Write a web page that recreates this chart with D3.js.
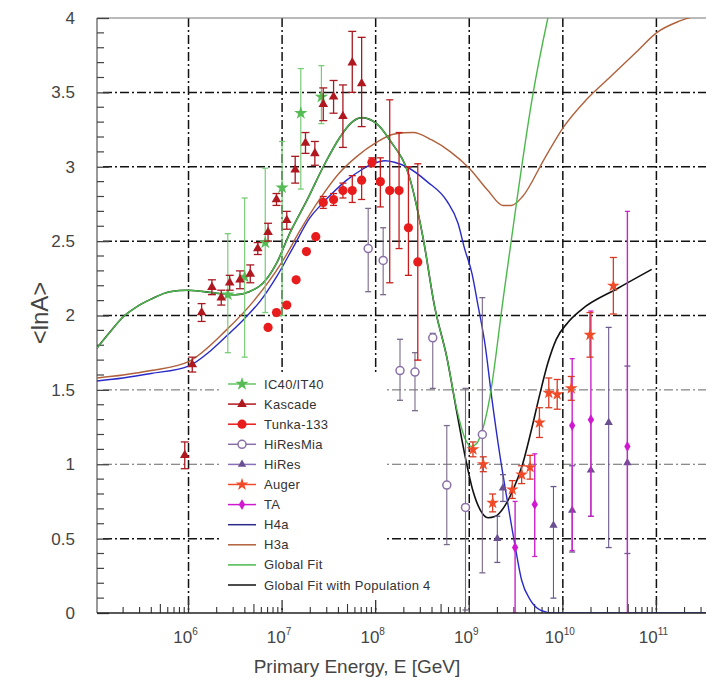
<!DOCTYPE html>
<html><head><meta charset="utf-8">
<script src="https://cdn.jsdelivr.net/npm/d3@7"></script>
<style>body{margin:0;background:#fff;} svg{display:block;font-family:"Liberation Sans",Arial,sans-serif;}</style>
</head><body><svg id="c" width="706" height="682"></svg>
<script>
// ---------- axis data ----------
const xTickExps = [6, 7, 8, 9, 10, 11];
const yTickValues = [0, 0.5, 1, 1.5, 2, 2.5, 3, 3.5, 4];
const yTickLabels = ["0", "0.5", "1", "1.5", "2", "2.5", "3", "3.5", "4"];
const yGridValues = [0.5, 1, 1.5, 2, 2.5, 3, 3.5];

// ---------- data points (log10 E [GeV], <lnA>) ----------
const ic40_logE = [6.42, 6.60, 6.82, 7.00, 7.20, 7.42];
const ic40_lnA  = [2.14, 2.26, 2.49, 2.86, 3.36, 3.47];
const ic40_lo   = [1.75, 1.72, 2.02, 2.00, 2.85, 3.29];
const ic40_hi   = [2.55, 2.79, 2.99, 3.17, 3.66, 3.68];

const kas_logE = [5.96, 6.04, 6.14, 6.25, 6.35, 6.44, 6.55, 6.66, 6.74, 6.85, 6.94, 7.05, 7.14, 7.25, 7.35, 7.44, 7.55, 7.65, 7.75, 7.85];
const kas_lnA  = [1.06, 1.67, 2.02, 2.19, 2.12, 2.22, 2.24, 2.28, 2.45, 2.56, 2.78, 2.64, 2.98, 3.16, 3.09, 3.42, 3.47, 3.34, 3.70, 3.56];
const kas_lo   = [0.97, 1.62, 1.96, 2.14, 2.07, 2.17, 2.18, 2.22, 2.41, 2.50, 2.74, 2.58, 2.89, 3.09, 3.01, 3.31, 3.36, 3.13, 3.50, 3.27];
const kas_hi   = [1.15, 1.72, 2.08, 2.24, 2.17, 2.27, 2.30, 2.34, 2.49, 2.62, 2.82, 2.70, 3.07, 3.23, 3.17, 3.53, 3.58, 3.55, 3.91, 3.87];

const tun_logE = [6.85, 6.94, 7.05, 7.15, 7.26, 7.36, 7.44, 7.55, 7.65, 7.75, 7.85, 7.96, 8.05, 8.15, 8.25, 8.35, 8.45];
const tun_lnA  = [1.92, 2.02, 2.07, 2.24, 2.43, 2.53, 2.76, 2.78, 2.84, 2.84, 2.91, 3.03, 2.90, 2.84, 2.84, 2.59, 2.36];
const tun_lo   = [1.92, 2.02, 2.07, 2.24, 2.43, 2.53, 2.72, 2.74, 2.79, 2.76, 2.78, 3.00, 2.73, 2.22, 2.45, 2.27, 1.70];
const tun_hi   = [1.92, 2.02, 2.07, 2.24, 2.43, 2.53, 2.80, 2.82, 2.89, 2.94, 3.00, 3.06, 3.06, 3.45, 3.23, 3.00, 3.02];

const hrm_logE = [7.92, 8.08, 8.26, 8.42, 8.61, 8.76, 8.96, 9.14];
const hrm_lnA  = [2.45, 2.37, 1.63, 1.62, 1.85, 0.86, 0.71, 1.20];
const hrm_lo   = [2.16, 2.14, 1.43, 1.36, 1.51, 0.46, 0.02, 0.27];
const hrm_hi   = [2.72, 2.59, 1.84, 1.75, 1.88, 1.26, 1.51, 2.12];

const hr_logE = [9.30, 9.36, 9.90, 10.10, 10.30, 10.49, 10.69];
const hr_lnA  = [0.50, 0.84, 0.59, 0.69, 0.96, 1.28, 1.01];
const hr_lo   = [0.34, 0.75, 0.10, 0.41, 0.65, 0.44, 0.40];
const hr_hi   = [0.65, 0.93, 0.85, 0.99, 1.30, 1.92, 1.66];

const aug_logE = [9.04, 9.15, 9.25, 9.46, 9.56, 9.65, 9.75, 9.85, 9.94, 10.09, 10.29, 10.54];
const aug_lnA  = [1.10, 1.00, 0.74, 0.83, 0.93, 0.98, 1.28, 1.48, 1.47, 1.51, 1.87, 2.20];
const aug_err  = [0.05, 0.05, 0.06, 0.06, 0.06, 0.08, 0.10, 0.10, 0.10, 0.08, 0.15, 0.19];

const ta_logE = [9.49, 9.70, 10.10, 10.30, 10.69];
const ta_lnA  = [0.44, 0.73, 1.26, 1.30, 1.12];
const ta_lo   = [0.00, 0.38, 0.42, 0.65, 0.00];
const ta_hi   = [0.75, 1.07, 1.71, 2.03, 2.70];

// ---------- model curves ----------
const h4a_logE = [5.02, 5.3, 5.6, 6.0, 6.23, 6.42, 6.6, 6.77, 6.95, 7.12, 7.3, 7.41, 7.55, 7.69, 7.85, 7.97, 8.1, 8.2, 8.33, 8.55, 8.76, 8.88, 8.95, 9.03, 9.09, 9.17, 9.24, 9.33, 9.40, 9.49, 9.56, 9.65, 9.76, 9.9, 10.2, 11.53];
const h4a_lnA  = [1.56, 1.58, 1.61, 1.66, 1.76, 1.87, 1.98, 2.10, 2.27, 2.46, 2.66, 2.74, 2.83, 2.91, 2.98, 3.02, 3.04, 3.03, 3.00, 2.90, 2.77, 2.62, 2.45, 2.28, 2.08, 1.80, 1.45, 1.05, 0.78, 0.45, 0.22, 0.09, 0.02, 0.0, 0.0, 0.0];

const h3a_logE = [5.02, 5.3, 5.6, 6.0, 6.4, 6.7, 7.0, 7.2, 7.4, 7.6, 7.8, 8.0, 8.2, 8.4, 8.6, 8.8, 9.0, 9.2, 9.36, 9.45, 9.57, 9.8, 10.0, 10.25, 10.5, 10.8, 11.0, 11.25, 11.53];
const h3a_lnA  = [1.58, 1.60, 1.63, 1.69, 1.90, 2.10, 2.36, 2.58, 2.78, 2.95, 3.07, 3.16, 3.22, 3.23, 3.18, 3.10, 2.99, 2.84, 2.74, 2.74, 2.80, 3.05, 3.26, 3.45, 3.60, 3.78, 3.90, 3.98, 4.03];

const gf_logE = [5.02, 5.15, 5.3, 5.45, 5.6, 5.8, 6.0, 6.3, 6.5, 6.65, 6.8, 6.94, 7.08, 7.27, 7.44, 7.62, 7.73, 7.85, 8.01, 8.15, 8.37, 8.51, 8.63, 8.76, 8.87, 8.95, 9.02, 9.08, 9.15, 9.22, 9.36, 9.51, 9.67, 9.84, 9.95];
const gf_lnA  = [1.78, 1.88, 1.99, 2.06, 2.11, 2.16, 2.17, 2.15, 2.14, 2.16, 2.22, 2.35, 2.55, 2.78, 3.00, 3.20, 3.29, 3.33, 3.29, 3.18, 2.91, 2.51, 2.06, 1.72, 1.36, 1.18, 1.12, 1.14, 1.25, 1.45, 2.10, 2.78, 3.45, 4.00, 4.30];

const gf4_logE = [5.02, 5.15, 5.3, 5.45, 5.6, 5.8, 6.0, 6.3, 6.5, 6.65, 6.8, 6.94, 7.08, 7.27, 7.44, 7.62, 7.73, 7.85, 8.01, 8.15, 8.37, 8.51, 8.63, 8.76, 8.87, 8.96, 9.04, 9.12, 9.2, 9.28, 9.37, 9.47, 9.57, 9.66, 9.75, 9.84, 9.93, 10.05, 10.2, 10.58, 10.95];
const gf4_lnA  = [1.78, 1.88, 1.99, 2.06, 2.11, 2.16, 2.17, 2.15, 2.14, 2.16, 2.22, 2.35, 2.55, 2.78, 3.00, 3.20, 3.29, 3.33, 3.29, 3.18, 2.91, 2.51, 2.06, 1.72, 1.34, 1.04, 0.82, 0.69, 0.64, 0.65, 0.71, 0.83, 1.00, 1.22, 1.46, 1.68, 1.84, 1.95, 2.04, 2.18, 2.31];

const legendLabels = ["IC40/IT40", "Kascade", "Tunka-133", "HiResMia", "HiRes", "Auger", "TA", "H4a", "H3a", "Global Fit", "Global Fit with Population 4"];

// ---------- drawing ----------
const svg = d3.select("#c");
const X0 = 97, X1 = 706, Y0 = 18, Y1 = 613;
const E = v => Math.pow(10, v);
const x = d3.scaleLog().domain([E(5.022), E(11.53)]).range([X0, X1]);
const y = d3.scaleLinear().domain([0, 4]).range([Y1, Y0]);

svg.append("defs").append("clipPath").attr("id", "clip")
  .append("rect").attr("x", X0).attr("y", Y0).attr("width", X1 - X0).attr("height", Y1 - Y0);

// gridlines
const grid = svg.append("g");
const dash = "9,3,2,3";
yGridValues.forEach(v => {
  const light = (v === 1 || v === 1.5);
  grid.append("line").attr("x1", X0 + 6).attr("x2", X1).attr("y1", y(v)).attr("y2", y(v))
    .attr("stroke", light ? "#666" : "#111").attr("stroke-width", light ? 1 : 1.5)
    .attr("stroke-dasharray", dash);
});
xTickExps.forEach(e => {
  grid.append("line").attr("x1", x(E(e))).attr("x2", x(E(e))).attr("y1", Y0).attr("y2", Y1)
    .attr("stroke", "#111").attr("stroke-width", 1.5).attr("stroke-dasharray", dash);
});

// legend background box (covers grid)
svg.append("rect").attr("x", 222).attr("y", 372).attr("width", 164).attr("height", 234).attr("fill", "#fff");

// axes frame
svg.append("line").attr("x1", X0).attr("x2", X1).attr("y1", Y0).attr("y2", Y0).attr("stroke", "#777").attr("stroke-width", 1.2);
svg.append("line").attr("x1", X0).attr("x2", X0).attr("y1", Y0).attr("y2", Y1).attr("stroke", "#555").attr("stroke-width", 1.2);

// y ticks
const yAxis = d3.axisLeft(y).tickValues(yTickValues).tickFormat((d, i) => yTickLabels[i]).tickSize(-12).tickPadding(22);
const gy = svg.append("g").attr("transform", `translate(${X0},0)`).call(yAxis);
gy.select(".domain").remove();
gy.selectAll("line").attr("stroke", "#444").attr("stroke-width", 1.3);
gy.selectAll("text").attr("font-size", 17).attr("fill", "#444").attr("font-family", "Liberation Sans, Arial, sans-serif");
const yMinor = d3.range(0, 40).map(i => i / 10).filter(v => Math.abs(v * 2 - Math.round(v * 2)) > 1e-6);
svg.append("g").selectAll("line").data(yMinor).join("line")
  .attr("x1", X0).attr("x2", X0 + 7).attr("y1", d => y(d)).attr("y2", d => y(d))
  .attr("stroke", "#444").attr("stroke-width", 1.2);

// x ticks
const xMinor = [];
for (let d = 5; d <= 11; d++) for (let k = 2; k <= 9; k++) { const v = k * E(d); if (v > x.domain()[0] && v < x.domain()[1]) xMinor.push(v); }
svg.append("g").selectAll("line").data(xMinor).join("line")
  .attr("x1", d => x(d)).attr("x2", d => x(d)).attr("y1", Y1).attr("y2", d => Y1 - (Math.round(d / E(Math.floor(Math.log10(d) + 1e-9))) === 5 ? 9 : 6))
  .attr("stroke", "#333").attr("stroke-width", 1.1);
svg.append("g").selectAll("line").data(xTickExps).join("line")
  .attr("x1", d => x(E(d))).attr("x2", d => x(E(d))).attr("y1", Y1).attr("y2", Y1 - 13)
  .attr("stroke", "#333").attr("stroke-width", 1.3);
const xl = svg.append("g").selectAll("text").data(xTickExps).join("text")
  .attr("x", d => x(E(d)) - 3).attr("y", 643).attr("text-anchor", "middle")
  .attr("font-size", 17).attr("fill", "#444");
xl.append("tspan").text("10");
xl.append("tspan").attr("dy", -8).attr("font-size", 10).text(d => d);

// axis titles
svg.append("text").attr("x", 357).attr("y", 673).attr("text-anchor", "middle").attr("font-size", 19).attr("fill", "#444")
  .text("Primary Energy, E [GeV]");
svg.append("text").attr("transform", "translate(48,313) rotate(-90)").attr("text-anchor", "middle").attr("font-size", 24).attr("fill", "#444")
  .text("<lnA>");

// curves
const curves = svg.append("g").attr("clip-path", "url(#clip)");
const line = d3.line().x(d => x(E(d[0]))).y(d => y(d[1])).curve(d3.curveMonotoneX);
function drawCurve(le, la, color, w) {
  curves.append("path").datum(le.map((v, i) => [v, la[i]])).attr("d", line)
    .attr("fill", "none").attr("stroke", color).attr("stroke-width", w);
}
drawCurve(h3a_logE, h3a_lnA, "#b0603a", 1.4);
drawCurve(gf4_logE, gf4_lnA, "#111", 1.6);
drawCurve(h4a_logE, h4a_lnA, "#2a2ac8", 1.4);
drawCurve(gf_logE, gf_lnA, "#4cb84c", 1.4);

// data series
const pts = svg.append("g").attr("clip-path", "url(#clip)");
function drawSeries(le, la, lo, hi, opt) {
  const g = pts.append("g");
  le.forEach((v, i) => {
    const cx = x(E(v));
    if (hi[i] - lo[i] > 0.001) {
      g.append("line").attr("x1", cx).attr("x2", cx).attr("y1", y(hi[i])).attr("y2", y(lo[i]))
        .attr("stroke", opt.ecol).attr("stroke-width", opt.ew || 1.3);
      [lo[i], hi[i]].forEach(b => g.append("line").attr("x1", cx - opt.cap / 2).attr("x2", cx + opt.cap / 2)
        .attr("y1", y(b)).attr("y2", y(b)).attr("stroke", opt.ecol).attr("stroke-width", 1.3));
    }
    marker(g, cx, y(la[i]), opt);
  });
}
function marker(g, cx, cy, opt) {
  if (opt.type === "circle") {
    g.append("circle").attr("cx", cx).attr("cy", cy).attr("r", opt.r)
      .attr("fill", opt.fill).attr("stroke", opt.stroke || "none").attr("stroke-width", opt.sw || 0);
  } else {
    g.append("path").attr("d", d3.symbol(opt.sym, opt.size)()).attr("transform", `translate(${cx},${cy})`)
      .attr("fill", opt.fill).attr("stroke", opt.stroke || "none").attr("stroke-width", opt.sw || 0);
  }
}
const styles = {
  ic40: { type: "sym", sym: d3.symbolStar, size: 55, fill: "#55bb55", ecol: "#77cc77", cap: 6, ew: 1.2 },
  kas:  { type: "sym", sym: d3.symbolTriangle, size: 40, fill: "#b01820", ecol: "#a81a22", cap: 8 },
  tun:  { type: "circle", r: 4.6, fill: "#e81c1c", ecol: "#c81c1c", cap: 7 },
  hrm:  { type: "circle", r: 4, fill: "#fff", stroke: "#8a70a8", sw: 1.5, ecol: "#7a6a8a", cap: 6, ew: 1.1 },
  hr:   { type: "sym", sym: d3.symbolTriangle, size: 30, fill: "#6a5090", ecol: "#6a5a8a", cap: 6, ew: 1.1 },
  aug:  { type: "sym", sym: d3.symbolStar, size: 50, fill: "#f04a28", ecol: "#d83a22", cap: 7 },
  ta:   { type: "sym", sym: d3.symbolDiamond, size: 34, fill: "#d018d0", ecol: "#cc22cc", cap: 5, ew: 1.4 }
};
drawSeries(hrm_logE, hrm_lnA, hrm_lo, hrm_hi, styles.hrm);
drawSeries(hr_logE, hr_lnA, hr_lo, hr_hi, styles.hr);
drawSeries(ta_logE, ta_lnA, ta_lo, ta_hi, styles.ta);
drawSeries(ic40_logE, ic40_lnA, ic40_lo, ic40_hi, styles.ic40);
drawSeries(tun_logE, tun_lnA, tun_lo, tun_hi, styles.tun);
drawSeries(kas_logE, kas_lnA, kas_lo, kas_hi, styles.kas);
drawSeries(aug_logE, aug_lnA, aug_lnA.map((v, i) => v - aug_err[i]), aug_lnA.map((v, i) => v + aug_err[i]), styles.aug);

// bottom axis line on top
svg.append("line").attr("x1", X0).attr("x2", X1).attr("y1", Y1).attr("y2", Y1).attr("stroke", "#222").attr("stroke-width", 1.4);

// legend
const legStyles = [styles.ic40, styles.kas, styles.tun, styles.hrm, styles.hr, styles.aug, styles.ta];
const legLineCols = ["#66c466", "#b01820", "#e81c1c", "#8a70a8", "#8a70b8", "#f04a28", "#d018d0", "#2a2a8a", "#b0603a", "#4cb84c", "#111"];
const lg = svg.append("g");
legendLabels.forEach((lab, i) => {
  const ly = 384 + i * 20.1;
  lg.append("line").attr("x1", 228).attr("x2", 256).attr("y1", ly).attr("y2", ly)
    .attr("stroke", legLineCols[i]).attr("stroke-width", 1.5);
  if (i < 7) marker(lg, 242, ly, legStyles[i]);
  lg.append("text").attr("x", 264).attr("y", ly + 4.5).attr("font-size", 13).attr("fill", "#333")
    .attr("letter-spacing", 0.3).text(lab);
});
</script></body></html>
